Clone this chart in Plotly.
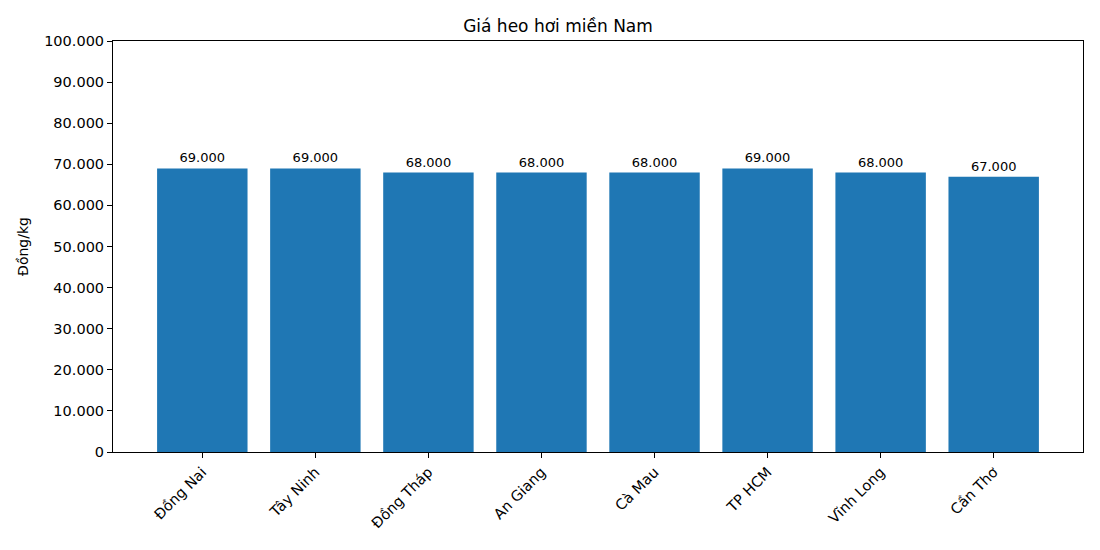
import plotly.graph_objects as go

categories = ["Đồng Nai", "Tây Ninh", "Đồng Tháp", "An Giang", "Cà Mau", "TP HCM", "Vĩnh Long", "Cần Thơ"]
prices = [69000, 69000, 68000, 68000, 68000, 69000, 68000, 67000]
labels = [f"{v:,}".replace(",", ".") for v in prices]
yticks = list(range(0, 100001, 10000))
yticklabels = [f"{v:,}".replace(",", ".") for v in yticks]

fig = go.Figure(go.Bar(
    x=list(range(len(categories))), y=prices, width=0.8,
    marker=dict(color="#1f77b4", line=dict(width=0)),
    text=labels, textposition="outside", cliponaxis=False,
    textfont=dict(size=13, color="black"),
))
fig.update_layout(
    width=1100, height=550, template="none",
    paper_bgcolor="white", plot_bgcolor="white",
    font=dict(family="DejaVu Sans", size=14, color="black"),
    margin=dict(l=105, r=25, t=33, b=106),
    title=dict(text="Giá heo hơi miền Nam", x=0.5, xanchor="center", y=0.967, yanchor="middle",
               font=dict(size=17)),
    showlegend=False,
)
fig.update_xaxes(range=[-0.79, 7.79], tickmode="array", tickvals=list(range(len(categories))),
                 ticktext=categories, tickangle=-45, showgrid=False, zeroline=False,
                 showline=True, mirror=True, linecolor="black", linewidth=1,
                 ticks="outside", ticklen=5, tickcolor="black", tickfont=dict(size=14.5))
fig.update_yaxes(range=[0, 100000], tickmode="array", tickvals=yticks, ticktext=yticklabels,
                 title=dict(text="Đồng/kg", standoff=12, font=dict(size=14)), showgrid=False, zeroline=False,
                 showline=True, mirror=True, linecolor="black", linewidth=1,
                 ticks="outside", ticklen=5, tickcolor="black", tickfont=dict(size=14.5))
fig.write_html("out.html")
